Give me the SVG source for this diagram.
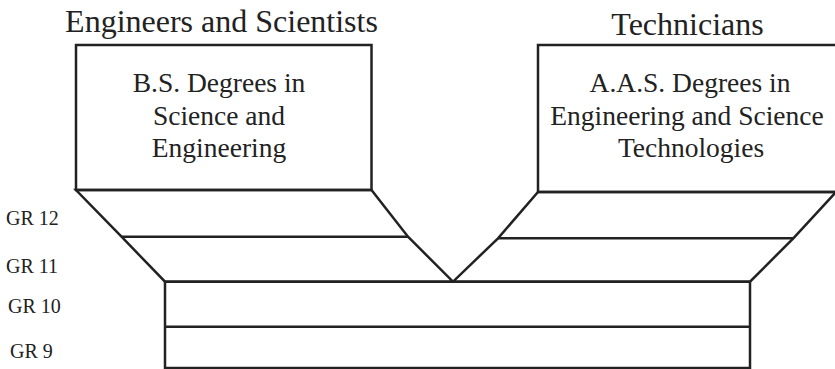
<svg xmlns="http://www.w3.org/2000/svg" width="835" height="369" viewBox="0 0 835 369">
  <style>
    .ln { fill: none; stroke: #222; stroke-width: 2.5; stroke-linejoin: miter; }
    .t { font-family: 'Liberation Serif', 'Times New Roman', serif; fill: #222; text-anchor: middle; }
    .title { font-size: 32px; }
    .box { font-size: 27.5px; }
    .gr { font-family: 'Liberation Serif', 'Times New Roman', serif; fill: #222; font-size: 20px; }
  </style>
  <rect width="835" height="369" fill="#fff"/>

  <g id="left-column">
    <text class="t title" x="221.5" y="32">Engineers and Scientists</text>
    <g id="bs-box">
      <rect class="ln" x="76" y="45" width="295.5" height="145"/>
      <text class="t box" x="219" y="91.7">B.S. Degrees in</text>
      <text class="t box" x="219" y="125">Science and</text>
      <text class="t box" x="219" y="156.7">Engineering</text>
    </g>
    <g id="left-funnel">
      <polygon class="ln" points="76,190 371.5,190 408,236.7 453,281.7 165,281.7 121.5,236.7"/>
      <line class="ln" x1="121.5" y1="236.7" x2="408" y2="236.7"/>
    </g>
  </g>

  <g id="right-column">
    <text class="t title" x="687.5" y="35">Technicians</text>
    <g id="aas-box">
      <rect class="ln" x="538" y="45" width="302" height="147"/>
      <text class="t box" x="690" y="91.7">A.A.S. Degrees in</text>
      <text class="t box" x="687" y="124.5">Engineering and Science</text>
      <text class="t box" x="691" y="156.7">Technologies</text>
    </g>
    <g id="right-funnel">
      <polygon class="ln" points="538,192 836,192 793.3,238.3 750,281.7 453,281.7 498,238.3"/>
      <line class="ln" x1="498" y1="238.3" x2="793.3" y2="238.3"/>
    </g>
  </g>

  <g id="base">
    <rect class="ln" x="165" y="281.7" width="585" height="86.3"/>
    <line class="ln" x1="165" y1="326.7" x2="750" y2="326.7"/>
  </g>

  <g id="grade-labels">
    <text class="gr" x="6" y="225">GR 12</text>
    <text class="gr" x="6" y="273">GR 11</text>
    <text class="gr" x="8" y="313">GR 10</text>
    <text class="gr" x="10" y="358">GR 9</text>
  </g>
  <g id="connectors"/>
</svg>
